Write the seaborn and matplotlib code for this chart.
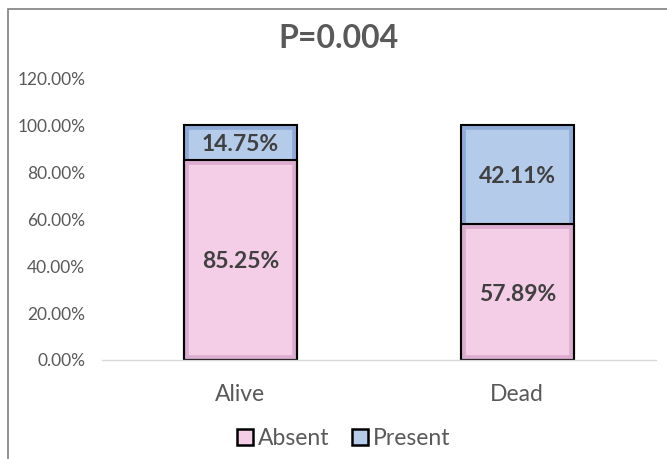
import seaborn as sns
import matplotlib.pyplot as plt
import pandas as pd
from matplotlib.patches import Rectangle, Patch
from matplotlib.ticker import FuncFormatter

status = ["Alive", "Dead"]
absent = [85.25, 57.89]
present = [14.75, 42.11]
title = "P=0.004"

sns.set_theme(style="white")
plt.rcParams["font.family"] = ["Lato", "DejaVu Sans"]

df = pd.DataFrame({"status": status, "Absent": absent, "Present": present})
df["total"] = df["Absent"] + df["Present"]

pink = "#f4cde6"
pink_dark = "#dcadd0"
blue = "#b4cbe9"
blue_dark = "#8eabd8"
text_grey = "#595959"

fig = plt.figure(figsize=(6.67, 4.59), dpi=100)
ax = fig.add_axes([0.153, 0.2157, 0.83, 0.614])

# stacked: draw the total (Present on top) first, then Absent over it
sns.barplot(data=df, x="status", y="total", color=blue, width=0.41,
            saturation=1, ax=ax)
n_total = len(ax.patches)
sns.barplot(data=df, x="status", y="Absent", color=pink, width=0.41,
            saturation=1, ax=ax)

# darker inner band + black outline on each bar segment
for k, bar in enumerate(list(ax.patches)):
    band = blue_dark if k < n_total else pink_dark
    bar.set_edgecolor(band)
    bar.set_linewidth(7)
    bar.set_clip_path(bar)
    ax.add_patch(Rectangle(bar.get_xy(), bar.get_width(), bar.get_height(),
                           fill=False, edgecolor="black", linewidth=1.5,
                           zorder=bar.get_zorder() + 0.1))

for i, (a, p) in enumerate(zip(absent, present)):
    ax.text(i, a / 2, f"{a:.2f}%", ha="center", va="center_baseline",
            fontsize=16.5, fontweight="bold", color="#404040", zorder=5)
    ax.text(i, a + p / 2, f"{p:.2f}%", ha="center", va="center_baseline",
            fontsize=16.5, fontweight="bold", color="#404040", zorder=5)

ax.set_xlim(-0.5, 1.5)
ax.set_ylim(0, 120)
ax.set_yticks(range(0, 121, 20))
ax.yaxis.set_major_formatter(FuncFormatter(lambda v, _: f"{v:.2f}%"))
ax.tick_params(axis="y", labelsize=12.5, colors=text_grey, length=0, pad=12)
ax.tick_params(axis="x", labelsize=16.5, colors=text_grey, length=0, pad=17)
ax.set_xlabel("")
ax.set_ylabel("")
for s in ["top", "right", "left"]:
    ax.spines[s].set_visible(False)
ax.spines["bottom"].set_color("#d9d9d9")
ax.spines["bottom"].set_linewidth(1)

fig.text(0.508, 0.917, title, ha="center", va="center", fontsize=23,
         fontweight="bold", color=text_grey)

handles = [Patch(facecolor=pink, edgecolor="black", linewidth=1.8, label="Absent"),
           Patch(facecolor=blue, edgecolor="black", linewidth=1.8, label="Present")]
fig.legend(handles=handles, loc="center", bbox_to_anchor=(0.515, 0.045), ncol=2,
           frameon=False, fontsize=16.5, handlelength=0.7, handleheight=0.7,
           handletextpad=0.2, columnspacing=1.0, labelcolor=text_grey)

# outer chart border
fig.patches.append(Rectangle((8 / 667, -0.05), 1.1, 1 - 9 / 459 + 0.05,
                             transform=fig.transFigure, fill=False,
                             edgecolor="#7f7f7f", linewidth=1.2))

fig.savefig("out.png", dpi=100)
